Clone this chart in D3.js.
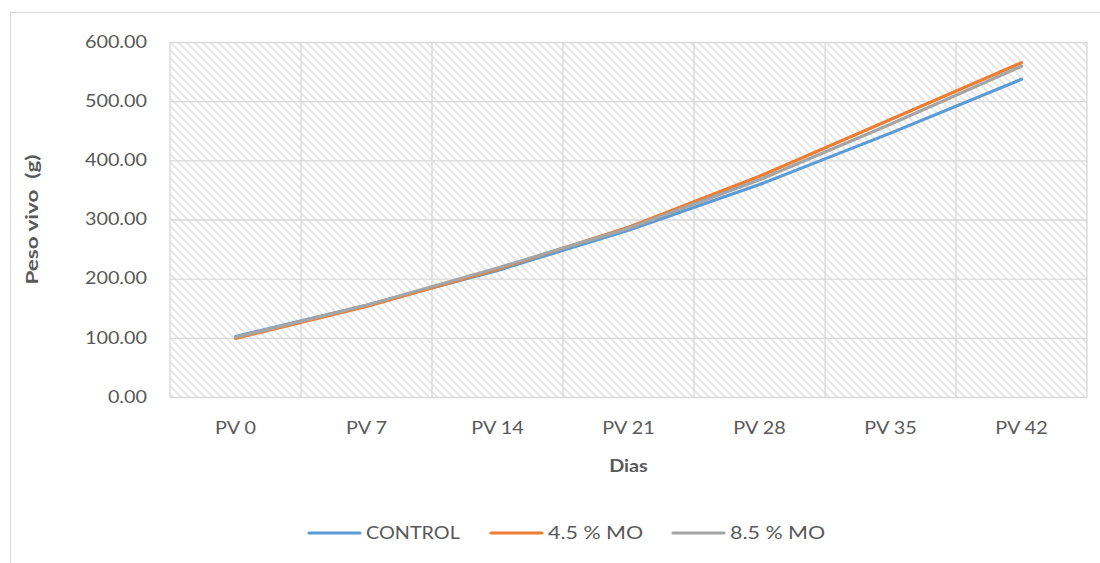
<!DOCTYPE html>
<html>
<head>
<meta charset="utf-8">
<script src="https://cdn.jsdelivr.net/npm/d3@7/dist/d3.min.js"></script>
<style>
  html, body { margin: 0; padding: 0; background: #fff; }
  svg { display: block; }
  text { font-family: Lato, "Open Sans", sans-serif; fill: #595959; white-space: pre; }
</style>
</head>
<body>
<svg id="chart" width="1100" height="563"></svg>
<script>
// Live weight (g) per weighing day
const categories = ["PV 0", "PV 7", "PV 14", "PV 21", "PV 28", "PV 35", "PV 42"];
const control = [102, 155, 214, 282, 359, 446, 537];
const mo45 = [99, 153, 216, 287, 373, 469, 565];
const mo85 = [101, 155, 218, 285, 367, 461, 559];
const yTicks = [0, 100, 200, 300, 400, 500, 600];
const seriesNames = ["CONTROL", "4.5 % MO", "8.5 % MO"];
const seriesColors = ["#5B9BD5", "#ED7D31", "#A5A5A5"];

const svg = d3.select("#chart");
const W = 1100, H = 563;
const plot = { left: 170, top: 42, right: 1087, bottom: 397 };
const STRETCH = 1.2;

svg.append("rect").attr("width", W).attr("height", H).attr("fill", "#fff");
svg.append("rect")
  .attr("x", 10.5).attr("y", 12.5).attr("width", W).attr("height", H)
  .attr("fill", "none").attr("stroke", "#D9D9D9").attr("stroke-width", 1);

// diagonal hatch for the plot area
const defs = svg.append("defs");
const pat = defs.append("pattern")
  .attr("id", "hatch").attr("patternUnits", "userSpaceOnUse")
  .attr("width", 8).attr("height", 8);
pat.append("rect").attr("width", 8).attr("height", 8).attr("fill", "#fff");
pat.append("path")
  .attr("d", "M-2,6 L2,10 M0,0 L8,8 M6,-2 L10,2")
  .attr("stroke", "#E8E8E8").attr("stroke-width", 2.2);

const x = d3.scaleBand().domain(categories).range([plot.left, plot.right]);
const y = d3.scaleLinear().domain([0, 600]).range([plot.bottom, plot.top]);

svg.append("rect")
  .attr("x", plot.left).attr("y", plot.top)
  .attr("width", plot.right - plot.left).attr("height", plot.bottom - plot.top)
  .attr("fill", "url(#hatch)");

// horizontal gridlines + value labels
const yAxis = svg.append("g")
  .attr("transform", `translate(${plot.left},0)`)
  .call(d3.axisLeft(y).tickValues(yTicks).tickFormat(d3.format(".2f"))
    .tickSize(-(plot.right - plot.left)).tickPadding(23));
yAxis.select(".domain").remove();
yAxis.selectAll(".tick line").attr("stroke", "#D9D9D9").attr("stroke-width", 1.3);
yAxis.selectAll(".tick text").attr("class", "stretch")
  .style("font-size", "16.5px").style("font-family", "Lato, 'Open Sans', sans-serif").attr("fill", "#595959");

// vertical gridlines between categories
const bounds = categories.map(c => x(c)).concat([x.range()[1]]);
svg.append("g").selectAll("line").data(bounds).join("line")
  .attr("x1", d => d).attr("x2", d => d)
  .attr("y1", plot.top).attr("y2", plot.bottom)
  .attr("stroke", "#D9D9D9").attr("stroke-width", 1.3);

// category labels
const xAxis = svg.append("g")
  .attr("transform", `translate(0,${plot.bottom})`)
  .call(d3.axisBottom(x).tickSize(0).tickPadding(25));
xAxis.select(".domain").remove();
xAxis.selectAll(".tick text").attr("class", "stretch")
  .style("font-size", "16.5px").style("font-family", "Lato, 'Open Sans', sans-serif").attr("fill", "#595959");

// axis titles
svg.append("text").attr("class", "stretch")
  .attr("x", (plot.left + plot.right) / 2).attr("y", 472)
  .attr("text-anchor", "middle")
  .style("font-size", "16.5px").style("font-weight", "bold")
  .text("Dias");
svg.append("text")
  .attr("transform", `translate(38,${(plot.top + plot.bottom) / 2}) rotate(-90)`)
  .attr("text-anchor", "middle")
  .attr("textLength", 130).attr("lengthAdjust", "spacingAndGlyphs")
  .style("font-size", "17px").style("font-weight", "bold")
  .text("Peso vivo  (g)");

// series lines
const line = d3.line().x((d, i) => x(categories[i]) + x.bandwidth() / 2).y(d => y(d));
const series = [control, mo45, mo85];
svg.append("g").selectAll("path").data(series).join("path")
  .attr("d", line)
  .attr("fill", "none")
  .attr("stroke", (d, i) => seriesColors[i])
  .attr("stroke-width", 3.2)
  .attr("stroke-linecap", "round")
  .attr("stroke-linejoin", "round");

// legend
const legendX = [309, 491, 673];
const lg = svg.append("g").selectAll("g").data(seriesNames).join("g")
  .attr("transform", (d, i) => `translate(${legendX[i]},533)`);
lg.append("line")
  .attr("x1", 0).attr("x2", 51).attr("y1", 0).attr("y2", 0)
  .attr("stroke", (d, i) => seriesColors[i]).attr("stroke-width", 3.2)
  .attr("stroke-linecap", "round");
lg.append("text").attr("class", "stretch legend")
  .attr("x", 57).attr("y", 0).attr("dy", "0.36em")
  .style("font-size", "16.5px")
  .text(d => d);

// widen glyphs horizontally to the chart's text proportions
svg.selectAll("text.stretch").each(function () {
  const k = this.classList.contains("legend") && this.textContent !== "CONTROL" ? 1.3 : STRETCH;
  const w = this.getComputedTextLength();
  d3.select(this).attr("textLength", w * k).attr("lengthAdjust", "spacingAndGlyphs");
});
</script>
</body>
</html>
